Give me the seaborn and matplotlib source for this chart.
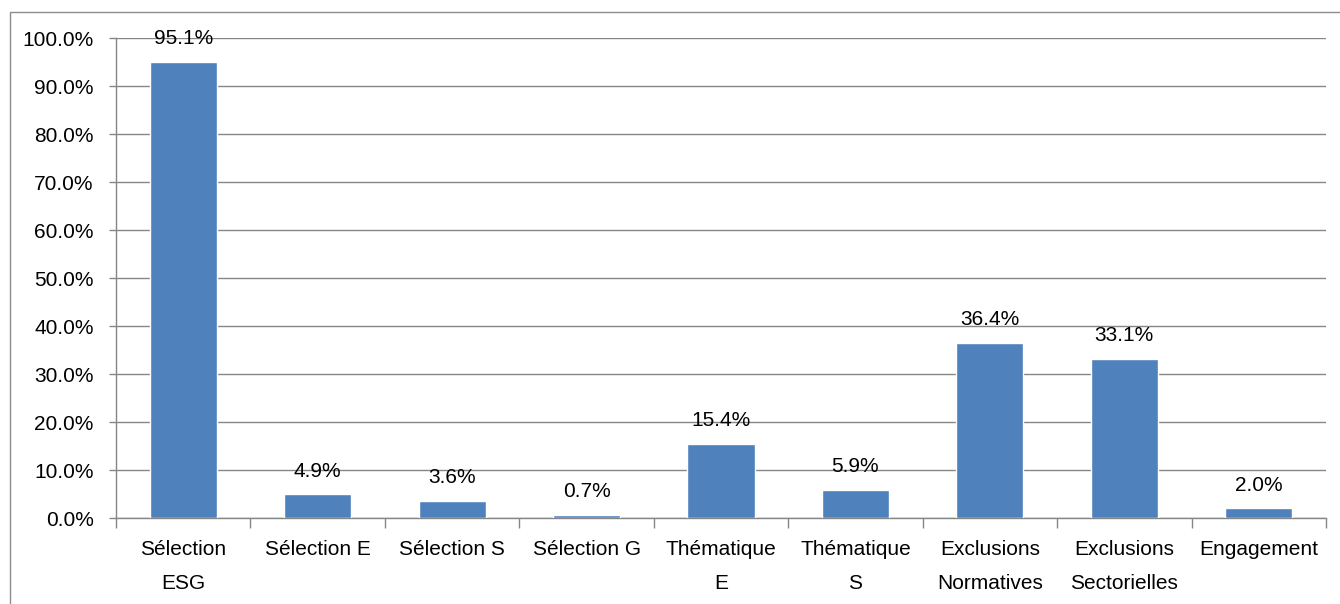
import matplotlib
matplotlib.use("Agg")
import matplotlib.pyplot as plt
import seaborn as sns
import pandas as pd
from matplotlib.patches import Rectangle
from matplotlib.ticker import FixedLocator, FuncFormatter

categories = ["Sélection\nESG", "Sélection E", "Sélection S", "Sélection G",
              "Thématique\nE", "Thématique\nS", "Exclusions\nNormatives",
              "Exclusions\nSectorielles", "Engagement"]
values = [95.1, 4.9, 3.6, 0.7, 15.4, 5.9, 36.4, 33.1, 2.0]
y_ticks = [0, 10, 20, 30, 40, 50, 60, 70, 80, 90, 100]

sns.set_theme(style="white")
plt.rcParams["font.family"] = ["Liberation Sans", "DejaVu Sans"]

W, H = 1340, 604
fig = plt.figure(figsize=(W / 100, H / 100), dpi=100)
fig.patch.set_facecolor("white")

# outer chart border (left and top visible)
fig.patches.append(Rectangle((10 / W, -0.5), 2.0, 1.5 - 12 / H,
                             transform=fig.transFigure, fill=False,
                             edgecolor="#8c8c8c", linewidth=1.0))

ax = fig.add_axes([116 / W, 86 / H, 1210 / W, 480 / H])
df = pd.DataFrame({"cat": categories, "val": values})
sns.barplot(data=df, x="cat", y="val", color="#4F81BD", saturation=1,
            width=0.5, ax=ax, zorder=3)

ax.set_ylim(0, 100)
ax.set_xlim(-0.5, len(categories) - 0.5)
ax.set_xlabel("")
ax.set_ylabel("")

grid_c = "#868686"
ax.yaxis.set_major_locator(FixedLocator(y_ticks))
ax.yaxis.set_major_formatter(FuncFormatter(lambda v, p: f"{v:.1f}%"))
ax.grid(axis="y", color=grid_c, linewidth=1.0, zorder=0)
ax.grid(axis="x", visible=False)
ax.set_axisbelow(True)

for s in ["top", "right"]:
    ax.spines[s].set_visible(False)
for s in ["left", "bottom"]:
    ax.spines[s].set_color(grid_c)
    ax.spines[s].set_linewidth(1.0)

ax.tick_params(axis="y", which="major", length=5, width=1.0, color=grid_c,
               labelsize=15, labelcolor="black", pad=11, left=True)
ax.set_xticks(range(len(categories)))
ax.set_xticklabels(categories, linespacing=2.0)
ax.tick_params(axis="x", which="major", length=0, labelsize=15,
               labelcolor="black", pad=16)
ax.set_xticks([i - 0.5 for i in range(len(categories) + 1)], minor=True)
ax.tick_params(axis="x", which="minor", length=7, width=1.0, color=grid_c,
               bottom=True)

for i, v in enumerate(values):
    ax.annotate(f"{v:.1f}%", xy=(i, v), xytext=(0, 10),
                textcoords="offset points", ha="center", va="bottom",
                fontsize=15, color="black", zorder=5)

fig.savefig("out.png", dpi=100)
